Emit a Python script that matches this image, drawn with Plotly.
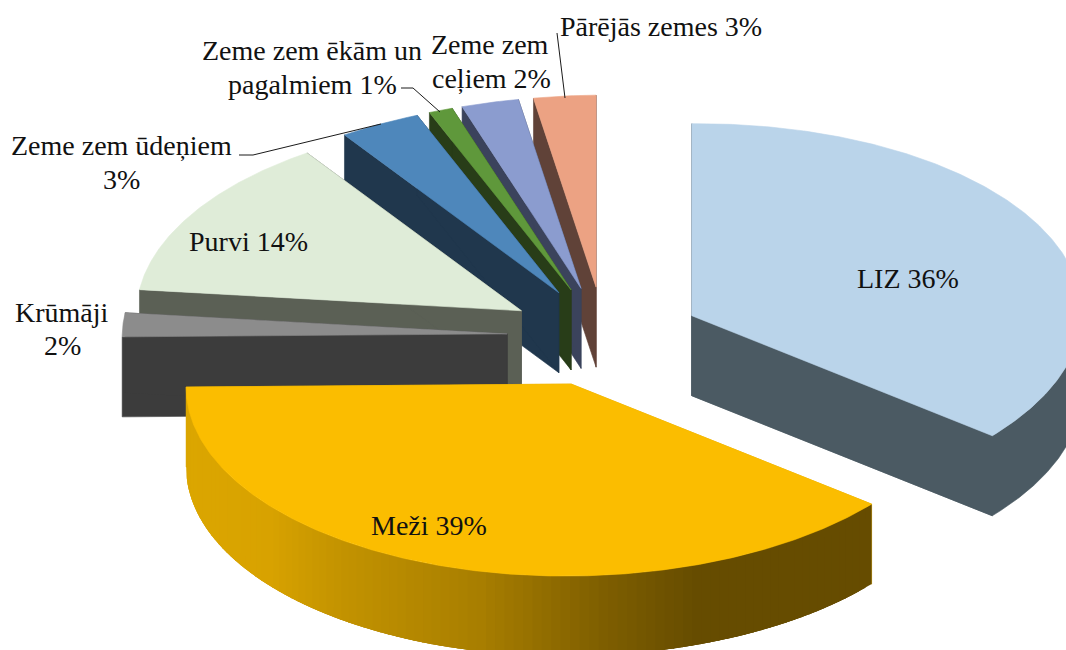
import numpy as np
import plotly.graph_objects as go

# --- data (share of land, %; unrounded estimates) ---
categories = ["LIZ", "Meži", "Krūmāji", "Purvi", "Zeme zem ūdeņiem",
              "Zeme zem ēkām un pagalmiem", "Zeme zem ceļiem", "Pārējās zemes"]
shares = [36.0, 39.0, 2.0, 13.6, 3.4, 1.0, 2.4, 2.6]

# --- style ---
top_colors = ["#bad4ea", "#fbbd00", "#8c8c8c", "#dfecd8", "#4e87bb", "#5f983b", "#8b9ccf", "#eca283"]
wall_colors = ["#4b5a63", "#dba600", "#3c3c3c", "#5b6055", "#20374d", "#283d18", "#3b435c", "#604238"]
draw_order = [7, 6, 5, 4, 3, 2, 1, 0]

W, H = 1066, 650
CX, CY = 604, 337       # pie centre
RX_R, RX_L, RY = 390, 385, 192   # projected radius (right half, left half, vertical)
PX, PY = 97, 50         # explosion
DEPTH = 80
TILT = 3

# gradient of the Meži outer wall (x position -> colour)
grad_x = [187, 270, 340, 480, 600, 697, 870]
grad_rgb = np.array([[219, 166, 0], [216, 162, 0], [195, 147, 0], [168, 126, 0],
                     [127, 95, 0], [102, 76, 0], [102, 76, 0]])

fig = go.Figure()


def poly(xs, ys, color, lw=0.6):
    fig.add_trace(go.Scatter(x=list(xs) + [xs[0]], y=list(ys) + [ys[0]], mode="lines",
                             fill="toself", fillcolor=color,
                             line=dict(color=color, width=lw),
                             hoverinfo="skip", showlegend=False))


def rim(apex, deg):
    t = np.radians(deg)
    s = np.sin(t)
    return apex[0] + np.where(s >= 0, RX_R, RX_L) * s, apex[1] - RY * np.cos(t) - TILT * s


cum = np.concatenate([[0], np.cumsum(shares)]) * 3.6

for i in draw_order:
    a0, a1 = cum[i], cum[i + 1]
    mid = np.radians((a0 + a1) / 2)
    apex = (CX + PX * np.sin(mid), CY - PY * np.cos(mid))
    wall = wall_colors[i]

    # radial walls
    for a in (a0, a1):
        rx, ry = rim(apex, a)
        poly([apex[0], float(rx), float(rx), apex[0]],
             [apex[1], float(ry), float(ry) + DEPTH, apex[1] + DEPTH], wall)

    # curved outer wall (only the front half of the rim is visible)
    lo, hi = max(a0, 90), min(a1, 270)
    if hi > lo:
        ang = np.linspace(lo, hi, 101)
        if categories[i] == "Meži":
            # each band runs on under the next one, so no seams show between them
            for b0, b1 in zip(ang[:-1], ang[1:]):
                xm, _ = rim(apex, (b0 + b1) / 2)
                c = [int(round(np.interp(float(xm), grad_x, grad_rgb[:, k]))) for k in range(3)]
                xs, ys = rim(apex, np.linspace(b0, min(b1 + 3, hi), 5))
                poly(list(xs) + list(xs[::-1]), list(ys) + list(ys[::-1] + DEPTH),
                     f"rgb({c[0]},{c[1]},{c[2]})", lw=0)
        else:
            # outer wall and end wall as one outline
            xs, ys = rim(apex, ang[::-1])
            poly([apex[0]] + list(xs) + list(xs[::-1]) + [apex[0]],
                 [apex[1]] + list(ys) + list(ys[::-1] + DEPTH) + [apex[1] + DEPTH], wall)

    # top face
    ang = np.linspace(a0, a1, max(int(a1 - a0) * 2, 6))
    xs, ys = rim(apex, ang)
    poly([apex[0]] + list(xs), [apex[1]] + list(ys), top_colors[i])

# --- leader lines ---
leaders = [
    ([239, 253, 381], [155, 155, 124]),
    ([401, 413, 440], [88, 88, 112]),
    ([557, 565], [33, 98]),
]
for lx, ly in leaders:
    fig.add_trace(go.Scatter(x=lx, y=ly, mode="lines", line=dict(color="#1a1a1a", width=1),
                             hoverinfo="skip", showlegend=False))

# --- labels, line by line (centre x, centre y, text) ---
labels = [
    (908, 278, "LIZ 36%"),
    (429, 525, "Meži 39%"),
    (62, 312, "Krūmāji"),
    (62, 345, "2%"),
    (248, 241, "Purvi 14%"),
    (121, 145, "Zeme zem ūdeņiem"),
    (121, 179, "3%"),
    (312, 50, "Zeme zem ēkām un"),
    (312, 84, "pagalmiem 1%"),
    (490, 44, "Zeme zem"),
    (491, 78, "ceļiem 2%"),
    (661, 26, "Pārējās zemes 3%"),
]
for x, y, t in labels:
    fig.add_annotation(x=x, y=y, text=t, showarrow=False, xanchor="center", yanchor="middle",
                       font=dict(family="Liberation Serif", size=28, color="#111111"))

fig.update_layout(
    width=W, height=H, margin=dict(l=0, r=0, t=0, b=0),
    paper_bgcolor="white", plot_bgcolor="white", showlegend=False,
    xaxis=dict(range=[0, W], visible=False, fixedrange=True),
    yaxis=dict(range=[H, 0], visible=False, fixedrange=True),
)
fig.write_html("out.html", config=dict(displayModeBar=False),
               post_script="document.body.style.margin='0';document.body.style.overflow='hidden';")
